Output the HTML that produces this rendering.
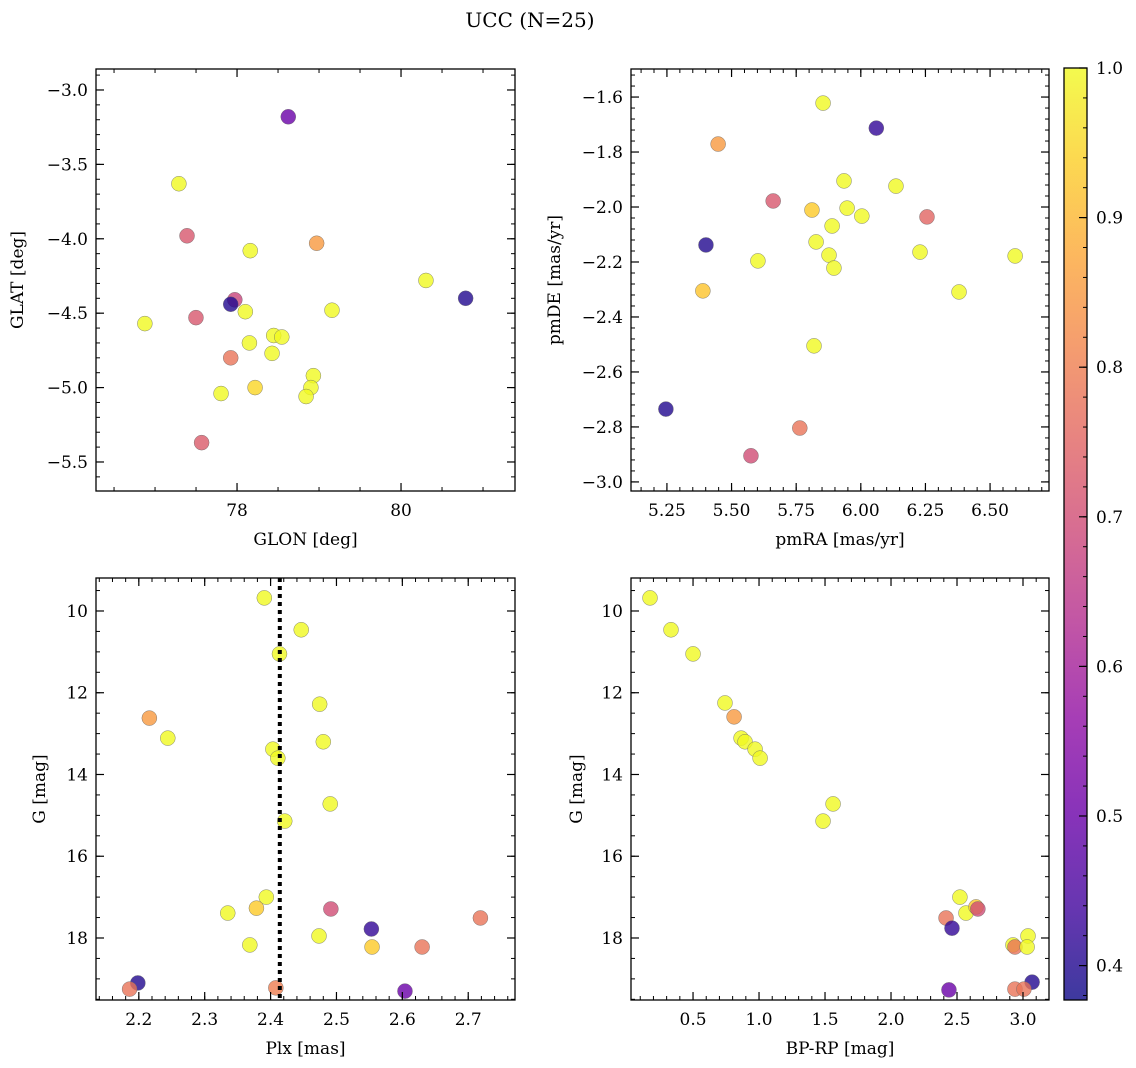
<!DOCTYPE html>
<html><head><meta charset="utf-8"><style>
html,body{margin:0;padding:0;background:#fff;}
svg{display:block;font-family:"DejaVu Serif","Liberation Serif",serif;}
</style></head><body>
<svg id="fig" width="1136" height="1068" viewBox="0 0 1136 1068" xmlns="http://www.w3.org/2000/svg">
<text x="530" y="27" text-anchor="middle" font-size="20">UCC (N=25)</text>
<defs><linearGradient id="cbg" x1="0" y1="1" x2="0" y2="0">
<stop offset="0" stop-color="#0d0887"/><stop offset="0.1" stop-color="#41049d"/><stop offset="0.2" stop-color="#6a00a8"/><stop offset="0.3" stop-color="#8f0da4"/><stop offset="0.4" stop-color="#b12a90"/><stop offset="0.5" stop-color="#cc4778"/><stop offset="0.6" stop-color="#e16462"/><stop offset="0.7" stop-color="#f2844b"/><stop offset="0.8" stop-color="#fca636"/><stop offset="0.9" stop-color="#fcce25"/><stop offset="1" stop-color="#f0f921"/>
</linearGradient></defs>
</svg>
<script>
// Panel 1: GLON / GLAT
const p1x=[78.625,77.291,77.39,78.161,78.971,80.304,80.788,76.876,77.973,77.923,78.101,77.499,79.158,78.447,78.546,78.151,78.427,77.923,78.931,78.901,78.22,77.805,78.842,77.568];
const p1y=[-3.18,-3.63,-3.98,-4.08,-4.03,-4.28,-4.40,-4.57,-4.41,-4.44,-4.49,-4.53,-4.48,-4.65,-4.66,-4.70,-4.77,-4.80,-4.92,-5.00,-5.00,-5.04,-5.06,-5.37];
const p1c=[0.5,1,0.72,1,0.85,1,0.4,1,0.68,0.4,1,0.72,1,1,1,1,1,0.78,1,1,0.95,1,1,0.73];
// Panel 2: pmRA / pmDE
const p2x=[5.854,5.448,6.060,5.935,6.136,5.661,5.811,5.947,6.004,6.256,5.827,5.889,5.401,5.877,6.229,5.602,5.896,6.597,5.389,6.380,5.819,5.246,5.764,5.575];
const p2y=[-1.622,-1.771,-1.713,-1.905,-1.924,-1.978,-2.011,-2.004,-2.033,-2.036,-2.127,-2.069,-2.138,-2.175,-2.164,-2.196,-2.222,-2.178,-2.305,-2.309,-2.505,-2.735,-2.804,-2.905];
const p2c=[1,0.85,0.42,1,1,0.72,0.93,1,1,0.75,1,1,0.4,1,1,1,1,1,0.92,1,1,0.4,0.78,0.7];
// Panel 3: Plx / G
const p3x=[2.3905,2.4465,2.4135,2.216,2.244,2.4745,2.480,2.4035,2.411,2.4215,2.4905,2.3935,2.3785,2.335,2.4915,2.7185,2.553,2.4735,2.3685,2.554,2.630,2.1985,2.186,2.408,2.604];
const p3y=[9.68,10.46,11.05,12.62,13.11,12.28,13.20,13.38,13.60,15.14,14.72,17.00,17.27,17.39,17.29,17.51,17.78,17.95,18.17,18.22,18.22,19.10,19.25,19.22,19.30];
const p3c=[1,1,1,0.85,1,1,1,1,1,1,1,1,0.93,1,0.7,0.78,0.42,1,1,0.93,0.78,0.4,0.78,0.8,0.5];
const plxRef=2.414;
// Panel 4: BP-RP / G
const p4x=[0.174,0.333,0.500,0.742,0.811,0.864,0.894,0.970,1.008,1.561,1.485,2.522,2.417,2.462,2.568,2.644,2.658,3.038,2.924,2.939,3.031,2.439,3.069,2.939,3.007];
const p4y=[9.68,10.46,11.05,12.25,12.59,13.11,13.20,13.38,13.60,14.72,15.14,17.00,17.51,17.76,17.39,17.24,17.29,17.95,18.17,18.22,18.22,19.27,19.08,19.25,19.25];
const p4c=[1,1,1,1,0.85,1,1,1,1,1,1,1,0.78,0.42,1,0.93,0.7,1,1,0.78,1,0.5,0.4,0.78,0.78];
const cbTicks=[0.4,0.5,0.6,0.7,0.8,0.9,1.0];
const CMIN=0.377, CMAX=1.0;

const NS='http://www.w3.org/2000/svg';
const svg=document.getElementById('fig');
function mk(tag,attrs,parent){const e=document.createElementNS(NS,tag);for(const k in attrs)e.setAttribute(k,attrs[k]);(parent||svg).appendChild(e);return e;}
const stops=[[13,8,135],[65,4,157],[106,0,168],[143,13,164],[177,42,144],[204,71,120],[225,100,98],[242,132,75],[252,166,54],[252,206,37],[240,249,33]];
function plasma(v){let t=(v-CMIN)/(CMAX-CMIN);t=Math.max(0,Math.min(1,t))*10;const i=Math.min(9,Math.floor(t)),f=t-i;const a=stops[i],b=stops[i+1];return 'rgb('+a.map((c,k)=>Math.round(c+(b[k]-c)*f)).join(',')+')';}
function fmt(v,d){let s=v.toFixed(d);return s.replace('-','\u2212');}

function panel(o){
  const g=mk('g',{});
  
  
  const X=v=>o.L+(v-o.x0)/(o.x1-o.x0)*(o.R-o.L);
  const Y=v=>o.B-(v-o.y0)/(o.y1-o.y0)*(o.B-o.T);
  for(let i=0;i<o.xs.length;i++){
    const c=mk('circle',{cx:X(o.xs[i]),cy:Y(o.ys[i]),r:7.5,fill:plasma(o.cs[i]),'fill-opacity':0.8,stroke:'#666','stroke-width':0.5,'stroke-opacity':0.8},g);
    
    
  }
  if(o.vline!==undefined){
    const l=mk('line',{x1:X(o.vline),x2:X(o.vline),y1:o.T,y2:o.B,stroke:'#000','stroke-width':4,'stroke-dasharray':'4,4'},g);
    
    
  }
  const eps=1e-9;
  function ticks(a0,a1,step){const r=[];let s=Math.ceil((Math.min(a0,a1)-eps)/step)*step;for(;s<=Math.max(a0,a1)+eps;s+=step)r.push(s);return r;}
  ticks(o.x0,o.x1,o.xmin).forEach(v=>{const x=X(v);mk('line',{x1:x,x2:x,y1:o.B,y2:o.B-4,stroke:'#000','stroke-width':1},g);mk('line',{x1:x,x2:x,y1:o.T,y2:o.T+4,stroke:'#000','stroke-width':1},g);});
  ticks(o.y0,o.y1,o.ymin).forEach(v=>{const y=Y(v);mk('line',{x1:o.L,x2:o.L+4,y1:y,y2:y,stroke:'#000','stroke-width':1},g);mk('line',{x1:o.R,x2:o.R-4,y1:y,y2:y,stroke:'#000','stroke-width':1},g);});
  ticks(o.x0,o.x1,o.xmaj).forEach(v=>{const x=X(v);mk('line',{x1:x,x2:x,y1:o.B,y2:o.B-8,stroke:'#000','stroke-width':1.2},g);mk('line',{x1:x,x2:x,y1:o.T,y2:o.T+8,stroke:'#000','stroke-width':1.2},g);
    const t=mk('text',{x:x,y:o.B+25,'text-anchor':'middle','font-size':17},g);t.textContent=fmt(v,o.xd);});
  ticks(o.y0,o.y1,o.ymaj).forEach(v=>{const y=Y(v);mk('line',{x1:o.L,x2:o.L+8,y1:y,y2:y,stroke:'#000','stroke-width':1.2},g);mk('line',{x1:o.R,x2:o.R-8,y1:y,y2:y,stroke:'#000','stroke-width':1.2},g);
    const t=mk('text',{x:o.L-8,y:y+6,'text-anchor':'end','font-size':17},g);t.textContent=fmt(v,o.yd);});
  mk('rect',{x:o.L,y:o.T,width:o.R-o.L,height:o.B-o.T,fill:'none',stroke:'#000','stroke-width':1.3},g);
  const xl=mk('text',{x:(o.L+o.R)/2,y:o.B+54,'text-anchor':'middle','font-size':17},g);xl.textContent=o.xlab;
  
  const cy=(o.T+o.B)/2;
  const yl=mk('text',{x:o.ylx,y:cy,'text-anchor':'middle','font-size':17,transform:'rotate(-90 '+o.ylx+' '+cy+')'},g);yl.textContent=o.ylab;
  
}
panel({name:'glon-glat-panel',L:96,R:515,T:69,B:491,x0:76.28,x1:81.39,y0:-5.695,y1:-2.859,xmaj:2,xmin:0.5,ymaj:0.5,ymin:0.1,xd:0,yd:1,xs:p1x,ys:p1y,cs:p1c,xlab:'GLON [deg]',ylab:'GLAT [deg]',ylx:23});
panel({name:'pmra-pmde-panel',L:631,R:1049,T:69,B:491,x0:5.111,x1:6.728,y0:-3.033,y1:-1.498,xmaj:0.25,xmin:0.05,ymaj:0.2,ymin:0.04,xd:2,yd:1,xs:p2x,ys:p2y,cs:p2c,xlab:'pmRA [mas/yr]',ylab:'pmDE [mas/yr]',ylx:560});
panel({name:'plx-g-panel',L:96,R:515,T:578,B:1000,x0:2.135,x1:2.771,y0:19.517,y1:9.193,xmaj:0.1,xmin:0.02,ymaj:2,ymin:0.5,xd:1,yd:0,xs:p3x,ys:p3y,cs:p3c,xlab:'Plx [mas]',ylab:'G [mag]',ylx:45,vline:plxRef});
panel({name:'bprp-g-panel',L:631,R:1049,T:578,B:1000,x0:0.030,x1:3.197,y0:19.517,y1:9.193,xmaj:0.5,xmin:0.1,ymaj:2,ymin:0.5,xd:1,yd:0,xs:p4x,ys:p4y,cs:p4c,xlab:'BP-RP [mag]',ylab:'G [mag]',ylx:582});
const cb=mk('g',{});


const cT=68,cB=1000,cL=1064,cR=1087;
const CY=v=>cB-(v-CMIN)/(CMAX-CMIN)*(cB-cT);
mk('rect',{x:cL,y:cT,width:cR-cL,height:cB-cT,fill:'url(#cbg)','fill-opacity':0.8,stroke:'#000','stroke-width':1.3},cb);
for(let v=0.38;v<=1.0001;v+=0.02){mk('line',{x1:cR,x2:cR-4,y1:CY(v),y2:CY(v),stroke:'#000','stroke-width':1},cb);}
cbTicks.forEach(v=>{const y=CY(v);mk('line',{x1:cR,x2:cR-8,y1:y,y2:y,stroke:'#000','stroke-width':1.2},cb);
  const t=mk('text',{x:cR+9,y:y+6,'font-size':17},cb);t.textContent=v.toFixed(1);
  });
</script>
</body></html>
